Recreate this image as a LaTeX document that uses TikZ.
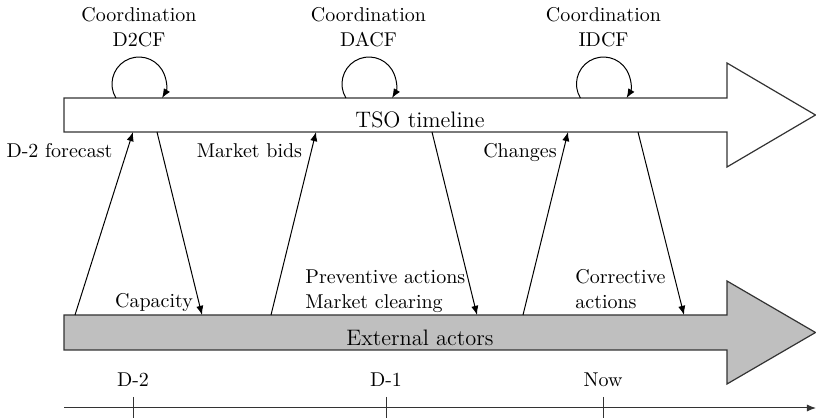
\documentclass[tikz,border=0pt]{standalone}
\usetikzlibrary{arrows.meta}
\begin{document}
\begin{tikzpicture}[x=0.5pt,y=0.5pt,
  bigarrow/.style={draw=black!80,line width=0.6pt,line join=miter},
  tip/.style={-{Latex[length=4.6pt,width=3.6pt]}},
  flow/.style={line width=0.5pt,tip},
  selfloop/.style={line width=0.5pt,tip},
  lbl/.style={inner sep=0pt,font=\fontsize{10}{12.5}\selectfont},
  biglbl/.style={inner sep=0pt,font=\fontsize{11.2}{13.5}\selectfont},
  tick/.style={line width=0.5pt,draw=black!80}]
\useasboundingbox (0,0) rectangle (816,418);

% TSO timeline arrow
\draw[bigarrow,fill=white] (64,286) -- (64,320) -- (727,320) -- (727,355)
  -- (815.5,303) -- (727,251) -- (727,286) -- cycle;
\node[biglbl,anchor=base] (tso) at (420,290) {TSO timeline};

% External actors arrow
\draw[bigarrow,fill=lightgray] (64,68) -- (64,103) -- (727,103) -- (727,137)
  -- (815.5,85.5) -- (727,34) -- (727,68) -- cycle;
\node[biglbl,anchor=base] (ext) at (420,72) {External actors};

% connector end points on the two arrows
\coordinate (t1) at (133,286);
\coordinate (t2) at (157,286);
\coordinate (t3) at (316,286);
\coordinate (t4) at (432,286);
\coordinate (t5) at (568,286);
\coordinate (t6) at (638,286);
\coordinate (b1) at (75,103);
\coordinate (b2) at (202,103);
\coordinate (b3) at (271,103);
\coordinate (b4) at (477,103);
\coordinate (b5) at (523,103);
\coordinate (b6) at (684,103);

\draw[flow] (b1) -- (t1);
\draw[flow] (t2) -- (b2);
\draw[flow] (b3) -- (t3);
\draw[flow] (t4) -- (b4);
\draw[flow] (b5) -- (t5);
\draw[flow] (t6) -- (b6);

% coordination loops
\coordinate (l1) at (115.9,320);
\coordinate (l2) at (345.9,320);
\coordinate (l3) at (580.4,320);
\draw[selfloop] (l1) arc[start angle=211.2,end angle=-31.2,radius=27];
\draw[selfloop] (l2) arc[start angle=211.2,end angle=-31.2,radius=27];
\draw[selfloop] (l3) arc[start angle=211.2,end angle=-31.2,radius=27];

% two-line labels: base anchor sits on the last line
\node[lbl,align=center,anchor=base] (c1) at (139,371) {Coordination\\D2CF};
\node[lbl,align=center,anchor=base] (c2) at (368.5,371) {Coordination\\DACF};
\node[lbl,align=center,anchor=base] (c3) at (603.5,371) {Coordination\\IDCF};

% message labels
\node[lbl,anchor=base] (m1) at (59.5,260) {D-2 forecast};
\node[lbl,anchor=base] (m2) at (154,110) {Capacity};
\node[lbl,anchor=base] (m3) at (249.5,260) {Market bids};
\node[lbl,anchor=base west,align=left] (m4) at (305,109) {Preventive actions\\Market clearing};
\node[lbl,anchor=base] (m5) at (520,260) {Changes};
\node[lbl,anchor=base west,align=left] (m6) at (575,109) {Corrective\\actions};

% time axis
\coordinate (ax0) at (64,10);
\coordinate (ax1) at (816,10);
\draw[tick,tip] (ax0) -- (ax1);
\coordinate (k1) at (133,21);
\coordinate (k2) at (386,21);
\coordinate (k3) at (603,21);
\draw[tick] (k1) -- ++(0,-21);
\draw[tick] (k2) -- ++(0,-21);
\draw[tick] (k3) -- ++(0,-21);
\node[lbl,anchor=base] (d1) at (133,31) {D-2};
\node[lbl,anchor=base] (d2) at (386,31) {D-1};
\node[lbl,anchor=base] (d3) at (603,31) {Now};
\end{tikzpicture}
\end{document}
